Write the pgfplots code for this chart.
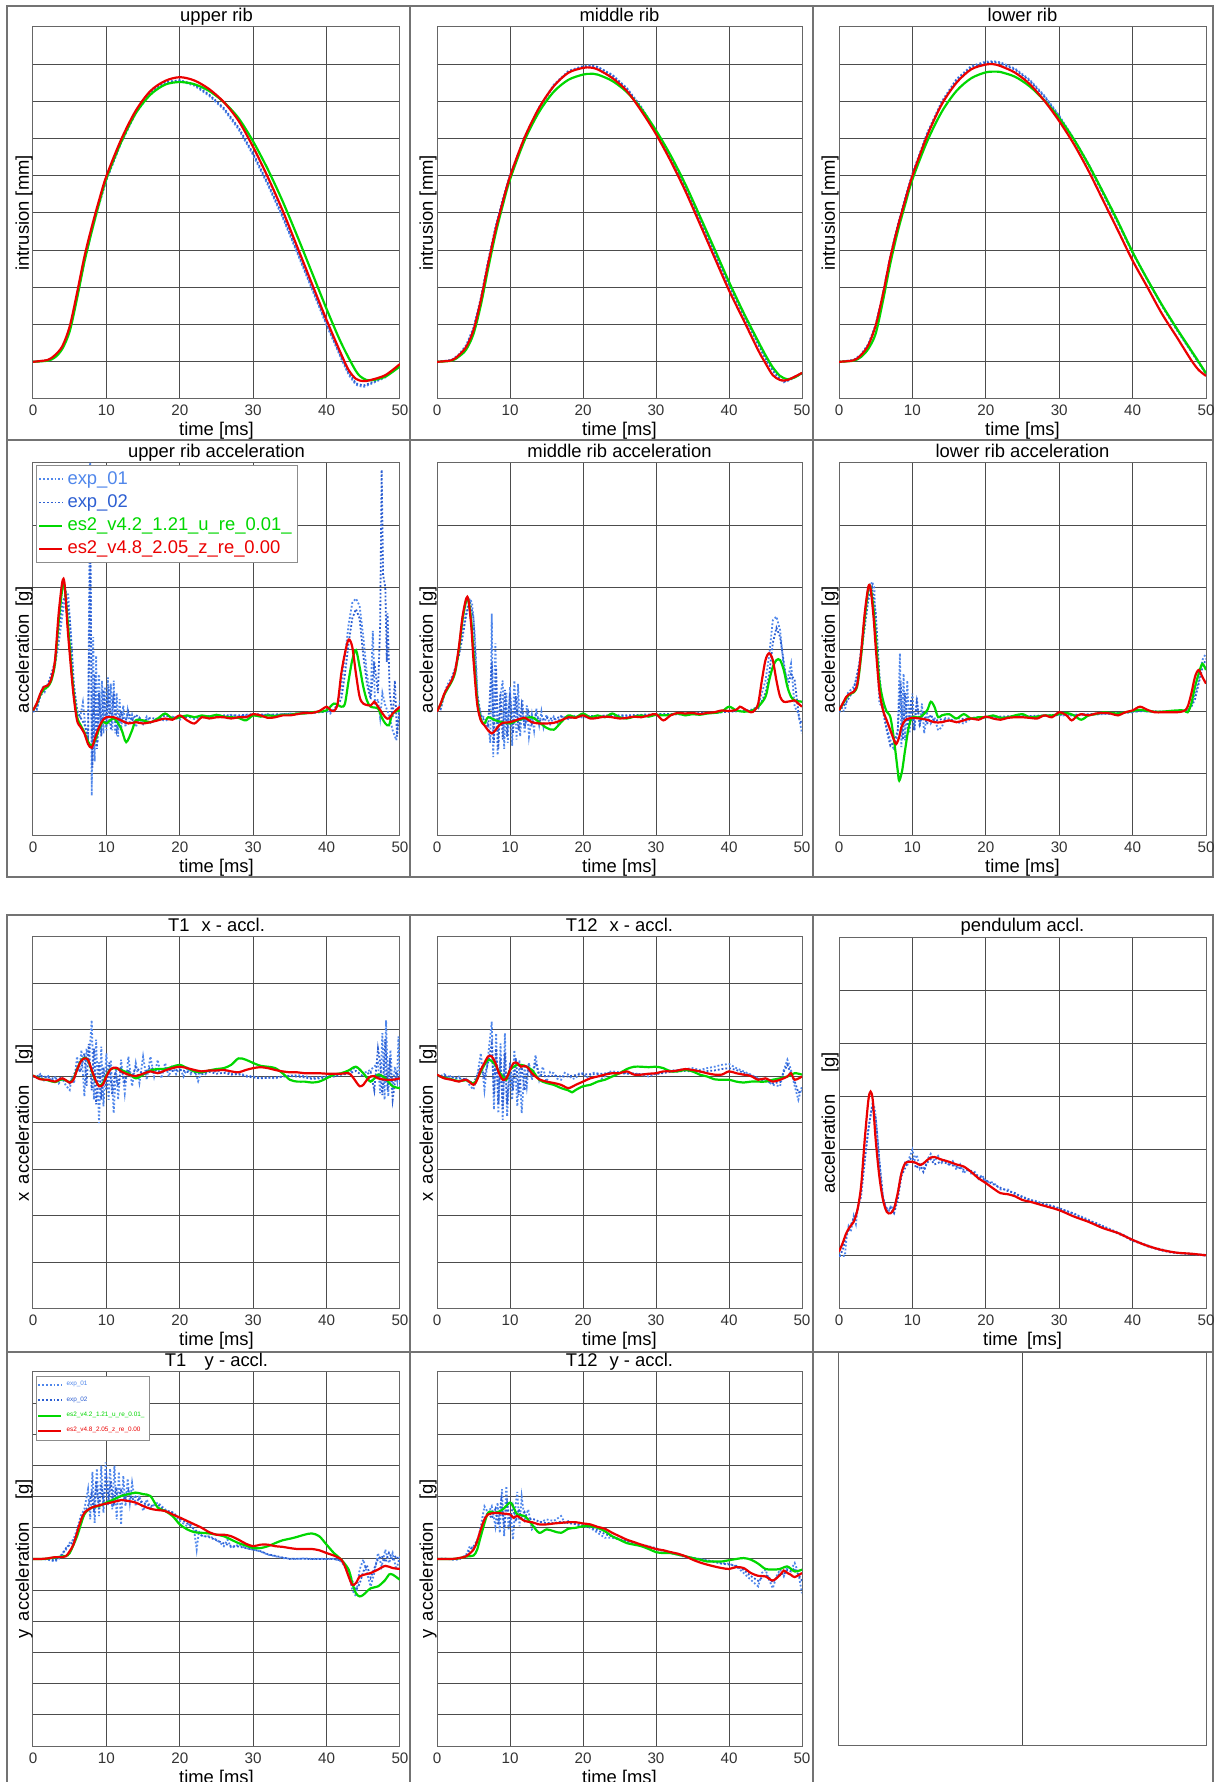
\documentclass[border=0pt]{standalone}
\usepackage{pgfplots}
\pgfplotsset{compat=1.18}
\usepackage{fontspec}
\setmainfont{Liberation Sans}
\definecolor{expA}{RGB}{80,135,235}
\definecolor{expB}{RGB}{45,95,210}
\definecolor{simG}{RGB}{0,215,0}
\definecolor{simR}{RGB}{235,0,0}
\newcommand{\lab}{\fontsize{9.2}{11}\selectfont}
\pgfplotsset{
  panel/.style={
    scale only axis, anchor=south west,
    xmin=0, xmax=50, xtick={0,10,...,50},
    grid=major, major grid style={black!70, line width=0.5pt},
    axis line style={black!60, line width=0.5pt},
    major tick length=0pt,
    yticklabels={},
    /pgf/number format/assume math mode=true,
    ticklabel style={font=\fontsize{7.6}{9}\selectfont, text=black!80},
    xticklabel style={anchor=base, yshift=-8.5pt},
    every axis title/.style={at={(axis description cs:0.5,1)}, anchor=base, yshift=2.7pt, font=\lab},
    every axis x label/.style={at={(axis description cs:0.5,0)}, anchor=base, yshift=-18.5pt, font=\lab},
    every axis y label/.style={at={(axis description cs:-0.011,0.5)}, anchor=base, rotate=90, font=\lab},
    xlabel={time [ms]},
    legend image code/.code={\draw[#1] (0pt,0pt) -- (11.5pt,0pt);},
  },
  pexpA/.style={expA, densely dotted, line width=0.9pt},
  pexpB/.style={expB, densely dotted, line width=0.9pt},
  psimG/.style={simG, line width=1.1pt, smooth},
  psimR/.style={simR, line width=1.1pt, smooth},
}
\begin{document}
\begin{tikzpicture}
\useasboundingbox (0pt,0pt) rectangle (607.5pt,891pt);
% panel frames
\foreach \xa/\xb in {3.5/205,205/406.5,406.5/606.5}{
  \foreach \ya/\yb in {671/888,452.5/671,215/433.5,-4/215}{
    \draw[black!55, line width=0.7pt] (\xa pt,\ya pt) rectangle (\xb pt,\yb pt);
  }
}
% ---------------- Row 1 : intrusion ----------------
\begin{axis}[panel, at={(16.5pt,691.5pt)}, width=183.5pt, height=186pt,
  ymin=-1, ymax=9, ytick={-1,0,...,9}, title={upper rib}, ylabel={intrusion [mm]}]
\addplot[pexpA] coordinates {(0,0)(2,0.03)(3,0.12)(4,0.35)(5,0.85)(6,1.75)(7,2.7)(8,3.5)(9,4.22)(10,4.88)(12,5.88)(14,6.68)(16,7.22)(18,7.5)(20,7.55)(22,7.42)(24,7.15)(26,6.78)(28,6.25)(30,5.55)(32,4.75)(34,3.88)(36,2.92)(38,1.95)(40,0.98)(42,0.08)(43,-0.35)(44,-0.62)(45,-0.68)(46,-0.6)(48,-0.42)(50,-0.1)};
\addplot[pexpB] coordinates {(0,0)(2,0.04)(3,0.14)(4,0.37)(5,0.88)(6,1.78)(7,2.73)(8,3.53)(9,4.25)(10,4.9)(12,5.9)(14,6.7)(16,7.24)(18,7.52)(20,7.57)(22,7.45)(24,7.18)(26,6.82)(28,6.3)(30,5.6)(32,4.8)(34,3.93)(36,2.97)(38,2.0)(40,1.03)(42,0.12)(43,-0.3)(44,-0.58)(45,-0.64)(46,-0.57)(48,-0.4)(50,-0.08)};
\addplot[psimG] coordinates {(0,0)(2,0.03)(3,0.12)(4,0.35)(5,0.82)(6,1.7)(7,2.68)(8,3.5)(9,4.25)(10,4.92)(12,5.9)(14,6.68)(16,7.18)(18,7.45)(20,7.52)(22,7.46)(24,7.28)(26,6.98)(28,6.55)(30,5.92)(32,5.17)(34,4.32)(36,3.38)(38,2.4)(40,1.42)(42,0.5)(44,-0.25)(45,-0.45)(46,-0.5)(48,-0.4)(50,-0.12)};
\addplot[psimR] coordinates {(0,0)(2,0.05)(3,0.18)(4,0.42)(5,0.95)(6,1.85)(7,2.82)(8,3.62)(9,4.34)(10,4.99)(12,5.97)(14,6.75)(16,7.28)(18,7.55)(20,7.65)(22,7.56)(24,7.33)(26,6.98)(28,6.48)(30,5.77)(32,4.96)(34,4.07)(36,3.09)(38,2.1)(40,1.12)(42,0.2)(43,-0.22)(44,-0.46)(45,-0.52)(46,-0.49)(48,-0.36)(50,-0.06)};
\end{axis}
\begin{axis}[panel, at={(218.5pt,691.5pt)}, width=182.5pt, height=186pt,
  ymin=-1, ymax=9, ytick={-1,0,...,9}, title={middle rib}, ylabel={intrusion [mm]}]
\addplot[pexpA] coordinates {(0,0)(2,0.05)(3,0.2)(4,0.45)(5,0.92)(6,1.72)(7,2.72)(8,3.62)(9,4.38)(10,5.02)(12,6.05)(14,6.85)(16,7.45)(18,7.82)(20,7.95)(21,7.97)(22,7.93)(24,7.72)(26,7.36)(28,6.85)(30,6.2)(32,5.5)(34,4.72)(36,3.85)(38,2.96)(40,2.08)(42,1.28)(44,0.5)(45,0.12)(46,-0.2)(47,-0.45)(47.5,-0.55)(48,-0.52)(50,-0.32)};
\addplot[pexpB] coordinates {(0,0)(2,0.04)(3,0.17)(4,0.42)(5,0.88)(6,1.68)(7,2.68)(8,3.58)(9,4.34)(10,5.0)(12,6.02)(14,6.82)(16,7.42)(18,7.8)(20,7.93)(21,7.96)(22,7.92)(24,7.7)(26,7.34)(28,6.82)(30,6.17)(32,5.46)(34,4.68)(36,3.82)(38,2.93)(40,2.05)(42,1.25)(44,0.46)(45,0.08)(46,-0.25)(47,-0.48)(47.5,-0.53)(48,-0.5)(50,-0.3)};
\addplot[psimG] coordinates {(0,0)(2,0.03)(3,0.14)(4,0.33)(5,0.75)(6,1.52)(7,2.5)(8,3.42)(9,4.2)(10,4.9)(12,5.95)(14,6.72)(16,7.26)(18,7.58)(20,7.72)(21,7.74)(22,7.72)(24,7.55)(26,7.25)(28,6.8)(30,6.22)(32,5.55)(34,4.78)(36,3.92)(38,3.04)(40,2.15)(42,1.32)(44,0.55)(45,0.18)(46,-0.15)(47,-0.38)(48,-0.47)(49,-0.42)(50,-0.3)};
\addplot[psimR] coordinates {(0,0)(2,0.04)(3,0.18)(4,0.4)(5,0.85)(6,1.65)(7,2.63)(8,3.53)(9,4.29)(10,4.98)(12,6.03)(14,6.83)(16,7.41)(18,7.77)(20,7.9)(21,7.91)(22,7.86)(24,7.63)(26,7.28)(28,6.74)(30,6.12)(32,5.4)(34,4.6)(36,3.71)(38,2.81)(40,1.92)(42,1.12)(44,0.31)(45,-0.04)(46,-0.36)(47,-0.49)(48,-0.49)(50,-0.3)};
\end{axis}
\begin{axis}[panel, at={(419.5pt,691.5pt)}, width=183.5pt, height=186pt,
  ymin=-1, ymax=9, ytick={-1,0,...,9}, title={lower rib}, ylabel={intrusion [mm]}]
\addplot[pexpA] coordinates {(0,0)(2,0.05)(3,0.2)(4,0.48)(5,1.0)(6,1.85)(7,2.85)(8,3.68)(9,4.4)(10,5.06)(12,6.15)(14,7.0)(16,7.6)(18,7.95)(20,8.07)(21,8.08)(22,8.05)(24,7.88)(26,7.58)(28,7.15)(30,6.62)(32,6.0)(34,5.32)(36,4.55)(38,3.76)(40,2.95)(42,2.22)(44,1.52)(46,0.88)(48,0.28)(49,-0.02)(50,-0.32)};
\addplot[pexpB] coordinates {(0,0)(2,0.04)(3,0.18)(4,0.46)(5,0.98)(6,1.83)(7,2.83)(8,3.66)(9,4.38)(10,5.04)(12,6.12)(14,6.97)(16,7.57)(18,7.92)(20,8.04)(21,8.06)(22,8.02)(24,7.85)(26,7.55)(28,7.12)(30,6.59)(32,5.97)(34,5.28)(36,4.5)(38,3.72)(40,2.92)(42,2.2)(44,1.5)(46,0.86)(48,0.27)(49,-0.03)(50,-0.33)};
\addplot[psimG] coordinates {(0,0)(2,0.03)(3,0.13)(4,0.35)(5,0.76)(6,1.65)(7,2.65)(8,3.5)(9,4.22)(10,4.9)(12,5.92)(14,6.72)(16,7.28)(18,7.62)(20,7.78)(21.5,7.8)(22,7.79)(24,7.66)(26,7.4)(28,7.02)(30,6.55)(32,5.98)(34,5.3)(36,4.55)(38,3.77)(40,2.95)(42,2.22)(44,1.53)(46,0.9)(48,0.3)(49,0.0)(50,-0.31)};
\addplot[psimR] coordinates {(0,0)(2,0.04)(3,0.18)(4,0.45)(5,0.98)(6,1.83)(7,2.81)(8,3.62)(9,4.33)(10,5.0)(12,6.07)(14,6.92)(16,7.5)(18,7.86)(20,7.99)(21,8.0)(22,7.95)(24,7.77)(26,7.46)(28,7.01)(30,6.47)(32,5.85)(34,5.13)(36,4.33)(38,3.53)(40,2.72)(42,2.01)(44,1.29)(46,0.67)(48,0.04)(49,-0.22)(50,-0.38)};
\end{axis}
% ---------------- Row 2 : rib acceleration ----------------
\begin{axis}[panel, at={(16.5pt,473pt)}, width=183.5pt, height=186.5pt,
  ymin=-2, ymax=4, ytick={-2,-1,...,4}, title={upper rib acceleration}, ylabel={acceleration\hspace{0.4em}[g]},
  legend style={at={(0.008,0.995)}, anchor=north west, draw=black!45, fill=white, inner sep=1pt,
    font=\fontsize{9.2}{11.2}\selectfont, cells={anchor=west}, row sep=-0.3pt}]
\addplot[pexpA] coordinates {(0,0)(0.5,0.02)(1,0.3)(1.3,0.38)(1.6,0.32)(2,0.45)(2.5,0.55)(3,0.75)(3.5,1.1)(4,1.55)(4.5,1.93)(4.8,1.88)(5.2,1.2)(5.6,0.4)(6,0.05)(6.4,-0.1)(6.8,0.15)(7.2,-0.3)(7.5,-0.5)(7.8,4.2)(8,-1.35)(8.2,1.2)(8.4,-0.8)(8.6,0.9)(8.8,-0.5)(9,0.6)(9.2,-0.3)(9.4,0.5)(9.6,-0.35)(9.8,0.4)(10,-0.3)(10.2,0.55)(10.4,-0.2)(10.6,0.45)(10.8,-0.3)(11,0.5)(11.2,-0.35)(11.4,0.3)(11.6,-0.4)(11.8,0.2)(12,-0.3)(12.3,0.1)(12.6,-0.25)(12.9,0.02)(13.2,-0.2)(13.5,-0.05)(14,-0.25)(14.5,-0.1)(15,-0.2)(15.5,-0.08)(16,-0.18)(17,-0.1)(18,-0.15)(19,-0.08)(20,-0.13)(21,-0.07)(22,-0.12)(23,-0.08)(24,-0.1)(25,-0.07)(26,-0.09)(27,-0.05)(28,-0.08)(29,-0.06)(30,-0.05)(31,-0.07)(32,-0.04)(33,-0.06)(34,-0.04)(35,-0.03)(36,-0.04)(37,-0.02)(38,-0.01)(39,0.0)(40,0.02)(40.5,-0.03)(41,0.05)(41.5,0.1)(42,0.4)(42.5,0.9)(43,1.4)(43.5,1.75)(44,1.82)(44.5,1.7)(45,1.2)(45.5,0.6)(46,0.25)(46.3,1.3)(46.6,0.1)(47,0.2)(47.3,-0.1)(47.6,0.3)(48,0.1)(48.5,-0.05)(49,-0.3)(49.5,-0.46)(50,0.2)};
\addlegendentry{\textcolor{expA}{exp\_01}}
\addplot[pexpB] coordinates {(0,0)(0.5,0.05)(1,0.25)(2,0.42)(3,0.8)(3.5,1.3)(4,1.75)(4.5,1.9)(5,1.5)(5.5,0.5)(6,0.0)(7,-0.2)(7.5,-0.4)(7.8,2.4)(8.1,-0.9)(8.4,0.6)(8.7,-0.6)(9,0.3)(9.3,-0.4)(9.6,0.35)(10,-0.25)(10.3,0.4)(10.6,-0.3)(11,0.3)(11.4,-0.3)(12,0.0)(12.5,-0.2)(13,0.0)(13.5,-0.15)(14,-0.05)(15,-0.15)(16,-0.1)(17,-0.12)(18,-0.06)(19,-0.1)(20,-0.08)(22,-0.09)(24,-0.07)(26,-0.06)(28,-0.06)(30,-0.04)(32,-0.05)(34,-0.04)(36,-0.03)(38,-0.02)(40,0.0)(41,0.02)(42,0.2)(42.5,0.6)(43,1.1)(43.5,1.5)(44,1.65)(44.5,1.5)(45,0.9)(45.5,0.45)(46,0.2)(46.5,0.8)(47,0.3)(47.3,1.4)(47.5,3.89)(47.7,2.2)(48,2.0)(48.2,0.8)(48.3,1.58)(48.6,0.3)(49,-0.1)(49.3,0.5)(49.6,-0.4)(50,0.1)};
\addlegendentry{\textcolor{expB}{exp\_02}}
\addplot[psimG] coordinates {(0,0.02)(0.5,0.12)(1,0.27)(1.5,0.36)(2,0.4)(2.5,0.5)(3,0.78)(3.5,1.45)(4,1.98)(4.3,2.02)(4.7,1.5)(5,1.05)(5.5,0.35)(6,-0.08)(6.5,-0.22)(7,-0.33)(7.5,-0.48)(8,-0.55)(8.5,-0.45)(9,-0.28)(9.5,-0.16)(10,-0.19)(11,-0.11)(12,-0.27)(12.7,-0.49)(13.5,-0.3)(14,-0.14)(15,-0.14)(16,-0.17)(17,-0.11)(18,-0.03)(19,-0.11)(20,-0.09)(21,-0.06)(22,-0.09)(23,-0.06)(24,-0.08)(25,-0.05)(26,-0.08)(27,-0.09)(28,-0.1)(29,-0.14)(30,-0.06)(31,-0.08)(32,-0.06)(33,-0.07)(34,-0.05)(35,-0.05)(36,-0.03)(37,-0.03)(38,-0.01)(39,0.0)(40,0.02)(41,0.13)(42,0.08)(42.5,0.13)(43,0.5)(43.5,0.83)(44,0.99)(44.5,0.72)(45,0.4)(45.5,0.18)(46,0.08)(47,0.05)(47.5,-0.09)(48,-0.19)(48.5,-0.22)(49,-0.03)(50,0.02)};
\addlegendentry{\textcolor{simG}{es2\_v4.2\_1.21\_u\_re\_0.01\_}}
\addplot[psimR] coordinates {(0,0.02)(0.5,0.13)(1,0.29)(1.5,0.4)(2,0.42)(2.5,0.53)(3,0.83)(3.5,1.58)(4,2.09)(4.3,2.06)(4.7,1.37)(5,0.94)(5.5,0.29)(6,-0.14)(6.5,-0.25)(7,-0.35)(7.5,-0.52)(8,-0.58)(8.5,-0.41)(9,-0.25)(9.5,-0.14)(10,-0.09)(11,-0.09)(12,-0.14)(13,-0.19)(14,-0.17)(15,-0.19)(16,-0.17)(17,-0.14)(18,-0.11)(19,-0.13)(20,-0.06)(21,-0.14)(22,-0.19)(23,-0.09)(24,-0.11)(25,-0.09)(26,-0.09)(27,-0.11)(28,-0.09)(29,-0.09)(30,-0.04)(31,-0.06)(32,-0.1)(33,-0.09)(34,-0.06)(35,-0.06)(36,-0.04)(37,-0.02)(38,-0.02)(39,0.01)(40,0.08)(40.5,0.03)(41,0.01)(41.5,0.13)(42,0.61)(42.5,0.94)(43,1.16)(43.5,1.04)(44,0.61)(44.5,0.24)(45,0.13)(46,0.1)(46.5,0.16)(47,0.08)(48,-0.09)(48.5,-0.11)(49,-0.03)(50,0.08)};
\addlegendentry{\textcolor{simR}{es2\_v4.8\_2.05\_z\_re\_0.00}}
\end{axis}
\begin{axis}[panel, at={(218.5pt,473pt)}, width=182.5pt, height=186.5pt,
  ymin=-2, ymax=4, ytick={-2,-1,...,4}, title={middle rib acceleration}, ylabel={acceleration\hspace{0.4em}[g]}]
\addplot[pexpA] coordinates {(0,0)(0.5,0.03)(1,0.3)(1.5,0.45)(2,0.55)(2.5,0.7)(3,0.95)(3.5,1.3)(4,1.6)(4.5,1.82)(4.8,1.75)(5.2,1.2)(5.6,0.15)(6,-0.05)(6.5,-0.1)(7,-0.2)(7.3,-0.5)(7.5,1.58)(7.7,-0.73)(8,1.1)(8.3,-0.7)(8.6,0.2)(9,0.5)(9.2,-0.6)(9.5,0.3)(9.7,-0.5)(10,0.4)(10.3,-0.55)(10.6,0.5)(10.9,-0.45)(11.1,0.45)(11.4,-0.4)(11.7,0.2)(12,-0.35)(12.3,0.1)(12.6,-0.4)(13,-0.05)(13.3,-0.3)(13.6,0.05)(14,-0.22)(14.3,0.0)(14.6,-0.25)(15,-0.05)(15.5,-0.2)(16,-0.08)(16.5,-0.18)(17,-0.07)(18,-0.12)(19,-0.06)(20,-0.1)(21,-0.07)(22,-0.09)(23,-0.06)(24,-0.08)(26,-0.07)(28,-0.06)(30,-0.05)(32,-0.05)(34,-0.04)(36,-0.03)(38,-0.02)(40,0.0)(42,0.02)(43,0.01)(44,0.1)(44.5,0.3)(45,0.5)(45.5,0.9)(46,1.47)(46.5,1.53)(47,1.31)(47.5,0.72)(48,0.5)(48.5,0.77)(49,0.08)(49.5,-0.03)(50,-0.35)};
\addplot[pexpB] coordinates {(0,0)(0.5,0.05)(1,0.28)(2,0.5)(3,0.9)(3.5,1.2)(4,1.55)(4.5,1.78)(5,1.5)(5.5,0.3)(6,-0.05)(7,-0.25)(7.5,0.8)(7.8,-0.5)(8.1,0.7)(8.4,-0.6)(8.7,0.3)(9,-0.45)(9.3,0.35)(9.6,-0.4)(10,0.3)(10.4,-0.35)(10.8,0.25)(11.2,-0.3)(11.6,0.1)(12,-0.25)(12.5,0.0)(13,-0.2)(13.5,-0.05)(14,-0.15)(15,-0.1)(16,-0.12)(17,-0.08)(18,-0.1)(20,-0.07)(22,-0.07)(24,-0.06)(26,-0.06)(28,-0.05)(30,-0.04)(32,-0.04)(34,-0.03)(36,-0.02)(38,-0.02)(40,0.0)(42,0.01)(44,0.05)(45,0.3)(45.5,0.6)(46,1.1)(46.5,1.35)(47,1.2)(47.5,0.8)(48,0.4)(48.5,0.6)(49,0.5)(49.3,0.2)(49.6,-0.1)(50,-0.2)};
\addplot[psimG] coordinates {(0,0)(0.5,0.12)(1,0.27)(1.5,0.38)(2,0.48)(2.5,0.64)(3,1.0)(3.5,1.48)(4,1.78)(4.3,1.8)(4.7,1.45)(5,0.95)(5.5,0.2)(6,-0.12)(6.5,-0.19)(7,-0.09)(8,-0.14)(9,-0.17)(10,-0.19)(11,-0.14)(12,-0.11)(13,-0.09)(14,-0.17)(15,-0.26)(16,-0.29)(17,-0.17)(18,-0.06)(19,-0.09)(20,-0.03)(21,-0.09)(22,-0.06)(23,-0.09)(24,-0.03)(25,-0.09)(26,-0.11)(27,-0.08)(28,-0.06)(29,-0.08)(30,-0.05)(31,-0.06)(32,-0.05)(33,-0.03)(34,-0.06)(35,-0.04)(36,-0.05)(37,-0.03)(38,-0.02)(39,0.0)(40,0.08)(41,0.02)(42,0.0)(43,0.01)(44,0.08)(45,0.24)(45.5,0.5)(46,0.72)(46.5,0.83)(47,0.83)(47.5,0.67)(48,0.4)(48.5,0.24)(49,0.18)(50,0.16)};
\addplot[psimR] coordinates {(0,0)(0.5,0.13)(1,0.29)(1.5,0.4)(2,0.5)(2.5,0.67)(3,1.04)(3.5,1.53)(4,1.82)(4.3,1.8)(4.7,1.37)(5,0.83)(5.5,0.13)(6,-0.14)(6.5,-0.22)(7,-0.3)(7.5,-0.35)(8,-0.3)(8.5,-0.22)(9,-0.18)(10,-0.17)(11,-0.13)(12,-0.1)(13,-0.17)(14,-0.19)(15,-0.19)(16,-0.18)(17,-0.14)(18,-0.09)(19,-0.1)(20,-0.06)(21,-0.11)(22,-0.1)(23,-0.08)(24,-0.09)(25,-0.11)(26,-0.1)(27,-0.08)(28,-0.09)(29,-0.06)(30,-0.04)(31,-0.14)(32,-0.06)(33,-0.02)(34,-0.03)(35,-0.02)(36,-0.04)(37,-0.02)(38,-0.01)(39,0.02)(40,0.01)(41,0.03)(41.5,0.08)(42,0.05)(43,-0.01)(43.5,0.02)(44,0.13)(44.5,0.5)(45,0.83)(45.5,0.94)(46,0.83)(46.5,0.5)(47,0.24)(47.5,0.16)(48,0.16)(48.5,0.17)(49,0.18)(49.5,0.13)(50,0.08)};
\end{axis}
\begin{axis}[panel, at={(419.5pt,473pt)}, width=183.5pt, height=186.5pt,
  ymin=-2, ymax=4, ytick={-2,-1,...,4}, title={lower rib acceleration}, ylabel={acceleration\hspace{0.4em}[g]}]
\addplot[pexpA] coordinates {(0,0)(0.8,0.02)(1.2,0.3)(1.6,0.35)(2,0.4)(2.5,0.55)(3,1.0)(3.5,1.5)(4,1.9)(4.5,2.09)(4.8,2.0)(5,1.37)(5.5,0.13)(6,0.08)(6.5,-0.25)(7,-0.46)(7.5,-0.62)(8,-0.35)(8.3,0.94)(8.5,-0.57)(8.8,0.61)(9,-0.46)(9.3,0.5)(9.6,-0.35)(10,0.29)(10.3,-0.3)(10.6,0.24)(11,-0.25)(11.3,0.13)(11.6,-0.35)(12,-0.03)(12.5,-0.19)(13,-0.09)(13.5,-0.3)(14,-0.25)(14.5,-0.1)(15,-0.11)(16,-0.17)(17,-0.19)(18,-0.11)(19,-0.12)(20,-0.09)(22,-0.1)(24,-0.08)(26,-0.08)(28,-0.07)(30,-0.06)(32,-0.06)(34,-0.05)(36,-0.04)(38,-0.03)(40,-0.01)(41,0.02)(42,0.0)(44,0.0)(46,0.01)(47.5,0.02)(48,0.1)(48.5,0.29)(49,0.5)(49.5,0.83)(50,0.94)};
\addplot[pexpB] coordinates {(0,0)(1,0.15)(2,0.35)(3,0.9)(3.5,1.35)(4,1.8)(4.5,2.0)(5,1.6)(5.5,0.6)(6,0.0)(6.5,-0.3)(7,-0.55)(7.5,-0.5)(8,-0.3)(8.4,0.5)(8.7,-0.45)(9,0.3)(9.4,-0.35)(9.8,0.2)(10.2,-0.3)(10.6,0.15)(11,-0.2)(11.5,0.0)(12,-0.2)(12.5,-0.05)(13,-0.15)(14,-0.12)(15,-0.15)(16,-0.1)(17,-0.12)(18,-0.1)(20,-0.08)(22,-0.08)(24,-0.07)(26,-0.07)(28,-0.06)(30,-0.05)(32,-0.05)(34,-0.04)(36,-0.03)(38,-0.02)(40,0.0)(42,0.01)(44,0.0)(46,0.0)(47.5,0.02)(48,0.08)(48.5,0.2)(49,0.45)(49.5,0.7)(50,0.85)};
\addplot[psimG] coordinates {(0,0.02)(0.5,0.12)(1,0.22)(1.5,0.28)(2,0.31)(2.5,0.42)(3,0.88)(3.5,1.5)(4,1.98)(4.3,2.0)(4.7,1.65)(5,1.2)(5.5,0.5)(6,0.18)(6.5,0.0)(7,-0.09)(7.5,-0.46)(8,-0.95)(8.2,-1.11)(8.6,-0.95)(9,-0.62)(9.5,-0.25)(10,-0.09)(11,-0.09)(12,0.02)(12.5,0.16)(13,0.08)(13.5,-0.09)(14,-0.06)(15,-0.04)(16,-0.11)(17,-0.04)(18,-0.11)(19,-0.09)(20,-0.09)(21,-0.06)(22,-0.1)(23,-0.09)(24,-0.06)(25,-0.04)(26,-0.09)(27,-0.08)(28,-0.06)(29,-0.06)(30,-0.04)(31,-0.02)(32,-0.06)(33,-0.13)(34,-0.06)(35,-0.04)(36,-0.01)(37,-0.02)(38,-0.03)(39,-0.01)(40,0.01)(41,0.03)(42,0.01)(43,0.0)(44,0.0)(45,0.01)(46,0.02)(47,0.02)(47.5,-0.01)(48,0.13)(48.5,0.4)(49,0.61)(49.5,0.77)(50,0.67)};
\addplot[psimR] coordinates {(0,0.02)(0.5,0.13)(1,0.24)(1.5,0.29)(2,0.32)(2.5,0.45)(3,0.94)(3.5,1.58)(4,2.01)(4.3,1.98)(4.7,1.53)(5,1.04)(5.5,0.34)(6,0.02)(6.5,-0.14)(7,-0.3)(7.5,-0.46)(7.8,-0.52)(8.2,-0.41)(8.5,-0.25)(9,-0.14)(9.5,-0.11)(10,-0.1)(11,-0.11)(12,-0.13)(13,-0.17)(14,-0.17)(15,-0.14)(16,-0.17)(17,-0.14)(18,-0.11)(19,-0.13)(20,-0.08)(21,-0.11)(22,-0.13)(23,-0.1)(24,-0.09)(25,-0.09)(26,-0.1)(27,-0.11)(28,-0.06)(29,-0.09)(30,-0.01)(31,-0.06)(31.7,-0.14)(32.5,-0.06)(33,-0.04)(34,-0.06)(35,-0.03)(36,-0.02)(37,-0.03)(38,-0.06)(39,-0.01)(40,0.02)(41,0.08)(42,0.03)(43,-0.01)(44,-0.01)(45,-0.01)(46,-0.01)(47,0.01)(47.5,0.08)(48,0.29)(48.5,0.56)(49,0.67)(49.5,0.56)(50,0.45)};
\end{axis}
% ---------------- Row 3 : x acceleration / pendulum ----------------
\begin{axis}[panel, at={(16.5pt,236.5pt)}, width=183.5pt, height=186pt,
  ymin=-5, ymax=3, ytick={-5,-4,...,3}, title={T1\hspace{0.65em}x - accl.}, ylabel={x\hspace{0.45em}acceleration\hspace{1.1em}[g]}]
\addplot[pexpA] coordinates {(0,0.0)(0.5,-0.03)(1,0.05)(1.5,-0.08)(2,0.03)(2.5,-0.1)(3,-0.02)(3.5,-0.15)(4,-0.05)(4.5,-0.2)(5,-0.29)(5.3,0.0)(5.6,-0.15)(6,0.43)(6.3,0.1)(6.6,0.57)(7,-0.43)(7.3,0.6)(7.6,0.25)(8,1.21)(8.3,-0.5)(8.6,0.79)(9,-1.0)(9.3,0.64)(9.6,-0.64)(10,0.5)(10.3,-0.5)(10.6,0.36)(11,-0.79)(11.3,0.21)(11.6,-0.5)(12,0.36)(12.5,-0.36)(13,0.43)(13.5,-0.21)(14,0.29)(14.5,-0.14)(15,0.43)(15.5,-0.07)(16,0.43)(16.5,0.0)(17,0.36)(17.5,-0.04)(18,0.29)(18.5,0.0)(19,0.25)(19.5,0.05)(20,0.2)(20.5,0.0)(21,0.18)(21.5,0.05)(22,0.15)(22.5,-0.1)(23,0.12)(23.5,0.05)(24,0.14)(25,0.1)(26,0.15)(27,0.05)(28,0.08)(29,0.02)(30,0.0)(31,-0.03)(32,-0.02)(33,-0.04)(34,0.0)(35,0.02)(36,0.03)(37,0.01)(38,-0.03)(39,-0.02)(40,0.0)(41,0.03)(42,0.05)(43,0.07)(44,0.21)(45,0.07)(46,0.14)(47,0.29)(47.3,-0.36)(47.6,0.93)(47.9,-0.5)(48.1,1.21)(48.4,-0.43)(48.7,0.57)(49,-0.29)(49.3,0.21)(49.6,-0.07)(49.8,0.86)(50,-0.21)};
\addplot[pexpB] coordinates {(0,0.0)(1,0.02)(2,-0.02)(3,-0.05)(4,-0.03)(5,-0.15)(5.5,0.0)(6,0.2)(6.5,0.1)(7,0.5)(7.3,-0.2)(7.6,0.7)(8,-0.3)(8.3,0.6)(8.6,-0.6)(9,0.3)(9.3,-0.5)(9.6,0.2)(10,-0.3)(10.4,0.3)(10.8,-0.4)(11.2,0.1)(11.6,-0.2)(12,0.2)(12.5,-0.1)(13,0.15)(13.5,0.0)(14,0.2)(15,0.05)(16,0.2)(17,0.1)(18,0.18)(19,0.12)(20,0.15)(21,0.1)(22,0.08)(23,0.05)(24,0.1)(25,0.06)(26,0.08)(27,0.04)(28,0.05)(29,0.0)(30,-0.02)(31,-0.04)(32,-0.03)(33,-0.02)(34,0.0)(35,0.01)(36,0.0)(37,-0.02)(38,-0.05)(39,-0.04)(40,-0.02)(41,0.0)(42,0.04)(43,0.06)(44,0.12)(45,0.0)(46,0.1)(46.5,-0.3)(47,0.6)(47.3,0.3)(47.6,-0.4)(48,0.8)(48.3,-0.3)(48.6,0.4)(49,-0.5)(49.5,0.1)(50,-0.1)};
\addplot[psimG] coordinates {(0,0.02)(1,-0.05)(2,-0.08)(3,-0.12)(4,-0.06)(5,-0.12)(5.5,-0.05)(6,0.15)(6.5,0.33)(7,0.4)(7.5,0.35)(8,0.12)(8.5,-0.08)(9,-0.2)(9.5,-0.15)(10,0.02)(10.5,0.15)(11,0.18)(12,0.14)(13,0.07)(14,-0.04)(15,0.04)(16,0.13)(17,0.16)(18,0.16)(19,0.21)(20,0.25)(21,0.18)(22,0.11)(23,0.09)(24,0.13)(25,0.16)(26,0.18)(27,0.25)(28,0.39)(29,0.36)(30,0.29)(31,0.23)(32,0.21)(33,0.18)(34,0.07)(35,-0.07)(36,-0.11)(37,-0.11)(38,-0.13)(39,-0.11)(40,-0.04)(41,0.04)(42,0.07)(43,0.13)(44,0.21)(45,0.07)(46,-0.11)(47,0.04)(48,-0.04)(49,-0.21)(50,-0.25)};
\addplot[psimR] coordinates {(0,0.02)(1,-0.06)(2,-0.07)(3,-0.11)(4,-0.04)(5,-0.13)(5.5,-0.07)(6,0.14)(6.5,0.32)(7,0.39)(7.5,0.36)(8,0.14)(8.5,-0.07)(9,-0.21)(9.5,-0.18)(10,0.0)(10.5,0.14)(11,0.19)(11.5,0.18)(12,0.11)(13,0.04)(14,0.01)(15,0.06)(16,0.11)(17,0.07)(18,0.13)(19,0.18)(20,0.21)(21,0.18)(22,0.14)(23,0.11)(24,0.13)(25,0.13)(26,0.14)(27,0.11)(28,0.09)(29,0.14)(30,0.18)(31,0.2)(32,0.18)(33,0.14)(34,0.11)(35,0.09)(36,0.09)(37,0.07)(38,0.07)(39,0.07)(40,0.06)(41,0.06)(42,0.06)(43,0.07)(43.5,0.0)(44,-0.11)(44.5,-0.21)(45,-0.18)(45.5,-0.07)(46,0.0)(46.5,0.01)(47,-0.04)(48,-0.07)(49,-0.07)(50,-0.04)};
\end{axis}
\begin{axis}[panel, at={(218.5pt,236.5pt)}, width=182.5pt, height=186pt,
  ymin=-5, ymax=3, ytick={-5,-4,...,3}, title={T12\hspace{0.65em}x - accl.}, ylabel={x\hspace{0.45em}acceleration\hspace{1.1em}[g]}]
\addplot[pexpA] coordinates {(0,0.02)(0.5,0.0)(1,0.05)(1.5,-0.03)(2,0.02)(2.5,-0.05)(3,0.0)(3.5,-0.08)(4,-0.05)(4.5,-0.2)(5,-0.28)(5.5,0.0)(6,0.5)(6.5,-0.29)(7,0.43)(7.5,1.18)(7.8,-0.71)(8.1,0.93)(8.4,-0.79)(8.7,0.71)(9,-0.93)(9.3,0.93)(9.6,-0.86)(10,0.21)(10.3,-0.5)(10.6,0.57)(11,-0.64)(11.3,0.36)(11.6,-0.79)(12,0.21)(12.3,-0.21)(12.6,0.29)(13,-0.07)(13.5,0.46)(14,-0.07)(14.5,0.21)(15,-0.11)(15.5,0.1)(16,0.07)(16.5,-0.05)(17,-0.07)(17.5,0.08)(18,0.04)(18.5,-0.05)(19,-0.04)(19.5,0.07)(20,0.07)(20.5,-0.03)(21,0.04)(21.5,0.08)(22,0.07)(22.5,-0.05)(23,0.0)(23.5,0.1)(24,0.11)(25,0.09)(26,0.07)(27,0.07)(28,0.04)(29,0.0)(30,0.06)(31,0.09)(32,0.13)(33,0.14)(34,0.16)(35,0.18)(36,0.14)(37,0.18)(38,0.21)(39,0.25)(40,0.27)(41,0.18)(42,0.11)(43,0.04)(44,-0.04)(45,-0.07)(46,-0.18)(47,-0.21)(47.5,0.14)(48,0.36)(48.5,0.14)(49,-0.21)(49.5,-0.5)(50,-0.21)};
\addplot[pexpB] coordinates {(0,0.0)(1,0.03)(2,-0.02)(3,-0.04)(4,-0.06)(5,-0.15)(6,0.2)(6.5,0.0)(7,0.3)(7.5,0.7)(7.8,-0.4)(8.1,0.6)(8.4,-0.6)(8.7,0.4)(9,-0.7)(9.3,0.5)(9.6,-0.6)(10,0.3)(10.4,-0.3)(10.8,0.4)(11.2,-0.4)(11.6,0.2)(12,-0.3)(12.5,0.2)(13,0.0)(13.5,0.3)(14,0.05)(15,0.0)(16,0.02)(17,0.0)(18,0.0)(19,0.03)(20,0.05)(22,0.05)(24,0.08)(26,0.06)(28,0.05)(30,0.05)(32,0.1)(34,0.12)(36,0.1)(38,0.13)(39,0.16)(40,0.18)(41,0.14)(42,0.08)(43,0.02)(44,-0.05)(45,-0.1)(46,-0.15)(47,-0.12)(47.5,0.1)(48,0.25)(48.5,0.05)(49,-0.1)(49.5,-0.35)(50,-0.3)};
\addplot[psimG] coordinates {(0,0.03)(1,-0.03)(2,-0.06)(3,-0.1)(4,-0.08)(5,-0.15)(5.5,-0.05)(6,0.1)(6.5,0.25)(7,0.36)(7.5,0.33)(8,0.25)(8.5,0.1)(9,0.0)(9.5,-0.07)(10,0.14)(11,0.25)(12,0.23)(13,0.14)(14,-0.07)(15,-0.14)(16,-0.18)(17,-0.25)(18,-0.3)(18.5,-0.34)(19,-0.29)(20,-0.21)(21,-0.18)(22,-0.11)(23,-0.07)(24,0.0)(25,0.07)(26,0.16)(27,0.21)(28,0.21)(29,0.2)(30,0.21)(31,0.18)(32,0.11)(33,0.11)(34,0.14)(35,0.11)(36,0.04)(37,0.0)(38,-0.06)(39,-0.07)(40,-0.07)(41,-0.11)(42,-0.13)(43,-0.11)(44,-0.11)(45,-0.11)(46,-0.07)(47,-0.04)(48,0.0)(49,0.07)(50,0.04)};
\addplot[psimR] coordinates {(0,0.04)(1,-0.04)(2,-0.07)(3,-0.11)(4,-0.07)(5,-0.18)(5.5,-0.07)(6,0.14)(6.5,0.29)(7,0.43)(7.5,0.43)(8,0.29)(8.5,0.07)(9,-0.07)(9.5,-0.04)(10,0.14)(10.5,0.29)(11,0.29)(11.5,0.21)(12,0.23)(12.5,0.18)(13,0.07)(14,-0.06)(15,-0.11)(16,-0.14)(17,-0.18)(18,-0.25)(19,-0.18)(20,-0.11)(21,-0.04)(22,0.0)(23,0.04)(24,0.07)(25,0.07)(26,0.11)(27,0.04)(28,0.04)(29,0.06)(30,0.07)(31,0.11)(32,0.11)(33,0.13)(34,0.16)(35,0.14)(36,0.11)(37,0.07)(38,0.04)(39,0.04)(40,0.11)(41,0.07)(42,0.04)(43,0.01)(44,-0.07)(45,-0.04)(46,-0.11)(47,-0.07)(48,0.0)(48.5,0.07)(49,-0.07)(50,0.0)};
\end{axis}
\begin{axis}[panel, at={(419.5pt,236.5pt)}, width=183.5pt, height=186pt,
  ymin=-1, ymax=6, ytick={-1,0,...,6}, title={pendulum accl.}, ylabel={acceleration\hspace{1.2em}[g]},
  xlabel={time\hspace{0.5em}[ms]}]
\addplot[pexpA] coordinates {(0,0.0)(0.8,0.0)(1,0.3)(1.3,0.55)(1.6,0.45)(2,0.75)(2.3,0.6)(2.6,0.95)(3,1.1)(3.3,1.5)(3.6,1.9)(4,2.35)(4.3,2.65)(4.6,2.9)(4.9,2.75)(5.2,2.3)(5.5,1.75)(5.8,1.3)(6.1,1.0)(6.5,0.9)(6.8,0.85)(7.1,0.95)(7.4,0.85)(7.7,1.0)(8,1.15)(8.3,1.45)(8.6,1.6)(9,1.75)(9.3,1.7)(9.6,1.85)(10,2.0)(10.3,1.8)(10.6,1.9)(11,1.65)(11.3,1.75)(11.6,1.62)(12,1.8)(12.5,1.92)(13,1.78)(13.5,1.88)(14,1.75)(14.5,1.82)(15,1.7)(15.5,1.78)(16,1.62)(16.5,1.72)(17,1.55)(17.5,1.65)(18,1.55)(18.5,1.58)(19,1.45)(19.5,1.52)(20,1.4)(21,1.38)(22,1.25)(23,1.25)(24,1.15)(25,1.12)(26,1.05)(27,1.03)(28,0.96)(29,0.95)(30,0.88)(31,0.85)(32,0.78)(33,0.74)(34,0.68)(35,0.6)(36,0.56)(37,0.5)(38,0.44)(39,0.38)(40,0.3)(41,0.25)(42,0.2)(43,0.15)(44,0.12)(45,0.08)(46,0.06)(48,0.04)(50,0.0)};
\addplot[pexpB] coordinates {(0,0.0)(0.5,0.1)(1,0.4)(1.5,0.55)(2,0.7)(2.5,0.85)(3,1.2)(3.5,1.8)(4,2.4)(4.5,2.8)(5,2.6)(5.5,1.8)(6,1.1)(6.5,0.85)(7,0.9)(7.5,0.8)(8,1.05)(8.5,1.5)(9,1.65)(9.5,1.8)(10,1.85)(10.5,1.65)(11,1.72)(11.5,1.58)(12,1.75)(12.5,1.82)(13,1.72)(14,1.78)(15,1.72)(16,1.68)(17,1.62)(18,1.6)(19,1.5)(20,1.42)(21,1.35)(22,1.28)(23,1.22)(24,1.18)(25,1.1)(26,1.06)(27,1.0)(28,0.98)(29,0.93)(30,0.9)(31,0.84)(32,0.8)(33,0.72)(34,0.66)(35,0.62)(36,0.55)(37,0.48)(38,0.42)(39,0.36)(40,0.28)(41,0.24)(42,0.18)(43,0.14)(44,0.1)(45,0.07)(46,0.05)(48,0.03)(50,0.02)};
\addplot[psimR] coordinates {(0,0.08)(0.5,0.24)(1,0.43)(1.5,0.55)(2,0.64)(2.5,0.86)(3,1.3)(3.5,2.18)(4,2.93)(4.3,3.09)(4.6,2.93)(5,2.18)(5.5,1.49)(6,1.05)(6.5,0.83)(7,0.8)(7.5,0.89)(8,1.18)(8.5,1.55)(9,1.74)(9.5,1.77)(10,1.77)(10.5,1.75)(11,1.71)(11.5,1.74)(12,1.8)(12.5,1.85)(13,1.86)(14,1.81)(15,1.77)(16,1.72)(17,1.68)(18,1.58)(19,1.46)(20,1.37)(21,1.27)(22,1.18)(23,1.16)(24,1.12)(25,1.05)(26,1.02)(28,0.94)(30,0.86)(32,0.74)(34,0.64)(36,0.52)(38,0.43)(40,0.3)(42,0.19)(44,0.11)(46,0.06)(48,0.04)(50,0.01)};
\end{axis}
% ---------------- Row 4 : y acceleration ----------------
\begin{axis}[panel, at={(16.5pt,18pt)}, width=183.5pt, height=187pt,
  ymin=-6, ymax=6, ytick={-6,-5,...,6}, title={T1\hspace{1em}y - accl.}, ylabel={y\hspace{0.45em}acceleration\hspace{1.2em}[g]},
  legend style={at={(0.008,0.99)}, anchor=north west, draw=black!45, fill=white, inner sep=0.5pt,
    font=\fontsize{3.2}{4.3}\selectfont, cells={anchor=west}, row sep=0pt}]
\addplot[pexpA] coordinates {(0,0)(1,0.0)(2,-0.02)(3,-0.08)(3.5,0.0)(4,0.19)(4.5,0.3)(5,0.52)(5.5,0.62)(6,0.95)(6.5,1.38)(7,1.6)(7.5,2.24)(7.8,1.27)(8.1,2.8)(8.4,1.16)(8.7,2.9)(9,1.38)(9.3,3.0)(9.6,1.48)(9.9,3.1)(10.2,1.7)(10.5,2.9)(10.8,1.59)(11.1,3.0)(11.4,1.27)(11.7,2.8)(12,1.1)(12.3,2.67)(12.6,1.7)(12.9,2.58)(13.2,1.81)(13.5,2.45)(14,1.7)(14.5,2.03)(15,1.54)(15.5,1.91)(16,1.65)(17,1.81)(18,1.59)(19,1.48)(20,1.22)(21,1.05)(21.5,1.16)(22,0.84)(22.3,0.3)(22.6,0.89)(23,0.73)(24,0.73)(25,0.62)(26,0.41)(26.5,0.62)(27,0.35)(28,0.46)(29,0.35)(30,0.3)(31,0.24)(32,0.14)(33,0.09)(34,0.03)(35,0.01)(36,0.0)(37,0.02)(38,0.0)(39,0.01)(40,0.0)(41,0.01)(42,-0.08)(43,-0.45)(43.5,-0.99)(44,-1.2)(44.5,-0.34)(45,-0.02)(45.5,-0.45)(46,-0.88)(46.5,-0.45)(47,0.19)(47.5,-0.24)(48,0.3)(48.5,-0.13)(49,0.19)(49.5,-0.34)(50,0.09)};
\addlegendentry{\textcolor{expA}{exp\_01}}
\addplot[pexpB] coordinates {(0,0)(1,0.0)(2,0.0)(3,-0.05)(4,0.15)(4.5,0.35)(5,0.45)(5.5,0.55)(6,0.8)(6.5,1.1)(7,1.5)(7.5,1.7)(8,2.1)(8.3,1.5)(8.6,2.5)(9,1.6)(9.3,2.4)(9.6,1.8)(10,2.6)(10.3,1.9)(10.6,2.5)(11,1.7)(11.3,2.3)(11.6,1.8)(12,2.2)(12.5,1.9)(13,2.2)(13.5,1.9)(14,2.0)(15,1.8)(16,1.7)(17,1.75)(18,1.55)(19,1.5)(20,1.3)(21,1.15)(22,0.95)(23,0.75)(24,0.7)(25,0.6)(26,0.5)(27,0.42)(28,0.4)(29,0.35)(30,0.3)(31,0.25)(32,0.15)(33,0.1)(34,0.05)(35,0.0)(36,0.01)(38,0.0)(40,0.0)(41,0.0)(42,-0.05)(43,-0.35)(43.5,-0.7)(44,-1.0)(44.5,-0.8)(45,-0.4)(45.5,-0.2)(46,-0.6)(46.5,-0.3)(47,0.0)(47.5,0.1)(48,-0.1)(48.5,0.2)(49,0.0)(49.5,0.1)(50,-0.1)};
\addlegendentry{\textcolor{expB}{exp\_02}}
\addplot[psimG] coordinates {(0,0)(1,0)(2,0.01)(3,0.05)(4,0.08)(4.5,0.1)(5,0.19)(6,0.73)(7,1.43)(8,1.65)(9,1.7)(10,1.81)(11,1.91)(12,2.02)(13,2.08)(14,2.13)(15,2.08)(16,2.02)(17,1.65)(18,1.54)(19,1.38)(20,1.11)(21,0.95)(22,0.86)(23,0.84)(24,0.82)(25,0.78)(26,0.73)(27,0.62)(28,0.51)(29,0.43)(30,0.35)(31,0.35)(32,0.41)(33,0.51)(34,0.6)(35,0.65)(36,0.71)(37,0.78)(38,0.82)(39,0.73)(40,0.46)(41,0.19)(42,-0.02)(43,-0.34)(43.5,-0.77)(44,-1.1)(44.5,-1.2)(45,-1.15)(46,-0.94)(47,-0.88)(48,-0.67)(48.5,-0.5)(49,-0.5)(50,-0.67)};
\addlegendentry{\textcolor{simG}{es2\_v4.2\_1.21\_u\_re\_0.01\_}}
\addplot[psimR] coordinates {(0,0)(1,0)(2,0.02)(3,0.06)(4,0.06)(4.5,0.09)(5,0.25)(5.5,0.46)(6,0.84)(6.5,1.22)(7,1.48)(8,1.65)(9,1.72)(10,1.78)(11,1.83)(12,1.89)(13,1.86)(14,1.81)(15,1.7)(16,1.61)(17,1.57)(18,1.54)(19,1.43)(20,1.33)(21,1.22)(22,1.11)(23,1.0)(24,0.86)(25,0.78)(26,0.78)(27,0.73)(28,0.62)(29,0.49)(30,0.41)(31,0.46)(32,0.46)(33,0.41)(34,0.39)(35,0.35)(36,0.32)(37,0.32)(38,0.32)(39,0.28)(40,0.19)(41,0.11)(42,-0.02)(42.5,-0.24)(43,-0.56)(43.5,-0.83)(44,-0.77)(44.5,-0.56)(45,-0.51)(46,-0.45)(47,-0.34)(48,-0.22)(49,-0.29)(50,-0.32)};
\addlegendentry{\textcolor{simR}{es2\_v4.8\_2.05\_z\_re\_0.00}}
\end{axis}
\begin{axis}[panel, at={(218.5pt,18pt)}, width=182.5pt, height=187pt,
  ymin=-6, ymax=6, ytick={-6,-5,...,6}, title={T12\hspace{0.65em}y - accl.}, ylabel={y\hspace{0.45em}acceleration\hspace{1.2em}[g]}]
\addplot[pexpA] coordinates {(0,0)(1,0.02)(2,-0.02)(3,-0.02)(4,0.14)(4.5,0.41)(5,0.35)(5.5,0.52)(6,1.05)(6.5,1.69)(7,1.48)(7.5,1.69)(8,1.05)(8.3,1.81)(8.6,0.84)(8.9,2.24)(9.2,0.73)(9.5,2.34)(9.8,0.95)(10.1,1.48)(10.4,0.62)(10.7,1.59)(11,2.15)(11.3,1.05)(11.6,2.0)(12,1.27)(12.5,1.59)(13,0.95)(13.5,1.05)(14,1.16)(15,1.27)(16,1.22)(17,1.38)(17.5,1.16)(18,1.22)(19,1.11)(20,1.05)(21,1.0)(22,0.84)(23,0.68)(24,0.68)(25,0.62)(26,0.57)(27,0.51)(28,0.46)(29,0.41)(30,0.35)(31,0.24)(32,0.19)(33,0.14)(34,0.06)(35,0.03)(36,0.0)(37,-0.04)(38,-0.08)(39,-0.13)(40,-0.15)(41,-0.24)(42,-0.45)(43,-0.67)(44,-0.88)(44.5,-0.45)(45,-0.34)(45.5,-0.67)(46,-0.94)(46.5,-0.56)(47,-0.34)(47.5,-0.56)(48,-0.24)(48.5,-0.34)(49,-0.13)(49.5,-0.45)(50,-1.1)};
\addplot[pexpB] coordinates {(0,0)(2,0.0)(3,0.0)(4,0.1)(4.5,0.3)(5,0.4)(5.5,0.6)(6,0.9)(6.5,1.3)(7,1.5)(7.5,1.3)(8,1.6)(8.4,1.1)(8.8,1.9)(9.2,1.0)(9.6,1.8)(10,1.2)(10.4,1.7)(10.8,1.2)(11.2,1.6)(11.6,1.3)(12,1.5)(12.5,1.25)(13,1.3)(14,1.2)(15,1.15)(16,1.15)(17,1.2)(18,1.15)(19,1.12)(20,1.08)(21,1.02)(22,0.92)(23,0.8)(24,0.72)(25,0.64)(26,0.58)(27,0.5)(28,0.44)(29,0.38)(30,0.32)(31,0.26)(32,0.2)(33,0.14)(34,0.08)(35,0.04)(36,0.0)(37,-0.05)(38,-0.1)(39,-0.15)(40,-0.18)(41,-0.22)(42,-0.35)(43,-0.55)(44,-0.7)(44.5,-0.6)(45,-0.5)(45.5,-0.6)(46,-0.75)(46.5,-0.6)(47,-0.45)(47.5,-0.5)(48,-0.35)(48.5,-0.4)(49,-0.3)(49.5,-0.5)(50,-0.7)};
\addplot[psimG] coordinates {(0,0)(2,0)(3,0.02)(4,0.08)(5,0.11)(5.5,0.3)(6,0.73)(7,1.48)(8,1.48)(9,1.59)(10,1.81)(10.5,1.65)(11,1.43)(12,1.38)(13,1.11)(14,0.84)(15,0.95)(16,0.89)(17,0.84)(18,0.97)(19,1.0)(20,1.05)(21,1.05)(22,1.0)(23,0.89)(24,0.73)(25,0.62)(26,0.51)(27,0.46)(28,0.41)(29,0.32)(30,0.22)(31,0.19)(32,0.19)(33,0.14)(34,0.09)(35,0.03)(36,-0.02)(37,-0.08)(38,-0.08)(39,-0.08)(40,-0.04)(41,0.0)(42,0.03)(43,-0.02)(44,-0.15)(45,-0.32)(46,-0.34)(47,-0.32)(48,-0.24)(49,-0.4)(50,-0.34)};
\addplot[psimR] coordinates {(0,0)(2,0)(3,0.03)(4,0.09)(5,0.3)(5.5,0.57)(6,0.95)(6.5,1.27)(7,1.43)(8,1.48)(9,1.46)(10,1.43)(10.5,1.32)(11,1.38)(12,1.22)(13,1.18)(14,1.11)(15,1.11)(16,1.14)(17,1.16)(18,1.18)(19,1.18)(20,1.14)(21,1.11)(22,1.03)(23,0.97)(24,0.84)(25,0.73)(26,0.62)(27,0.54)(28,0.46)(29,0.39)(30,0.32)(31,0.28)(32,0.22)(33,0.17)(34,0.09)(35,-0.02)(36,-0.11)(37,-0.18)(38,-0.24)(39,-0.29)(40,-0.32)(41,-0.26)(42,-0.29)(43,-0.45)(44,-0.54)(45,-0.56)(46,-0.69)(47,-0.51)(47.5,-0.37)(48,-0.45)(48.5,-0.51)(49,-0.58)(50,-0.45)};
\end{axis}
% empty panel
\begin{axis}[scale only axis, anchor=south west, at={(419pt,18pt)}, width=184pt, height=196.5pt,
  xmin=0, xmax=2, ymin=0, ymax=1, xtick={1}, xticklabels={}, ytick=\empty,
  xmajorgrids, major grid style={black!70, line width=0.5pt}, major tick length=0pt,
  axis line style={black!60, line width=0.5pt}]
\addplot[draw=none] coordinates {(0,0)(2,1)};
\end{axis}
\end{tikzpicture}
\end{document}
